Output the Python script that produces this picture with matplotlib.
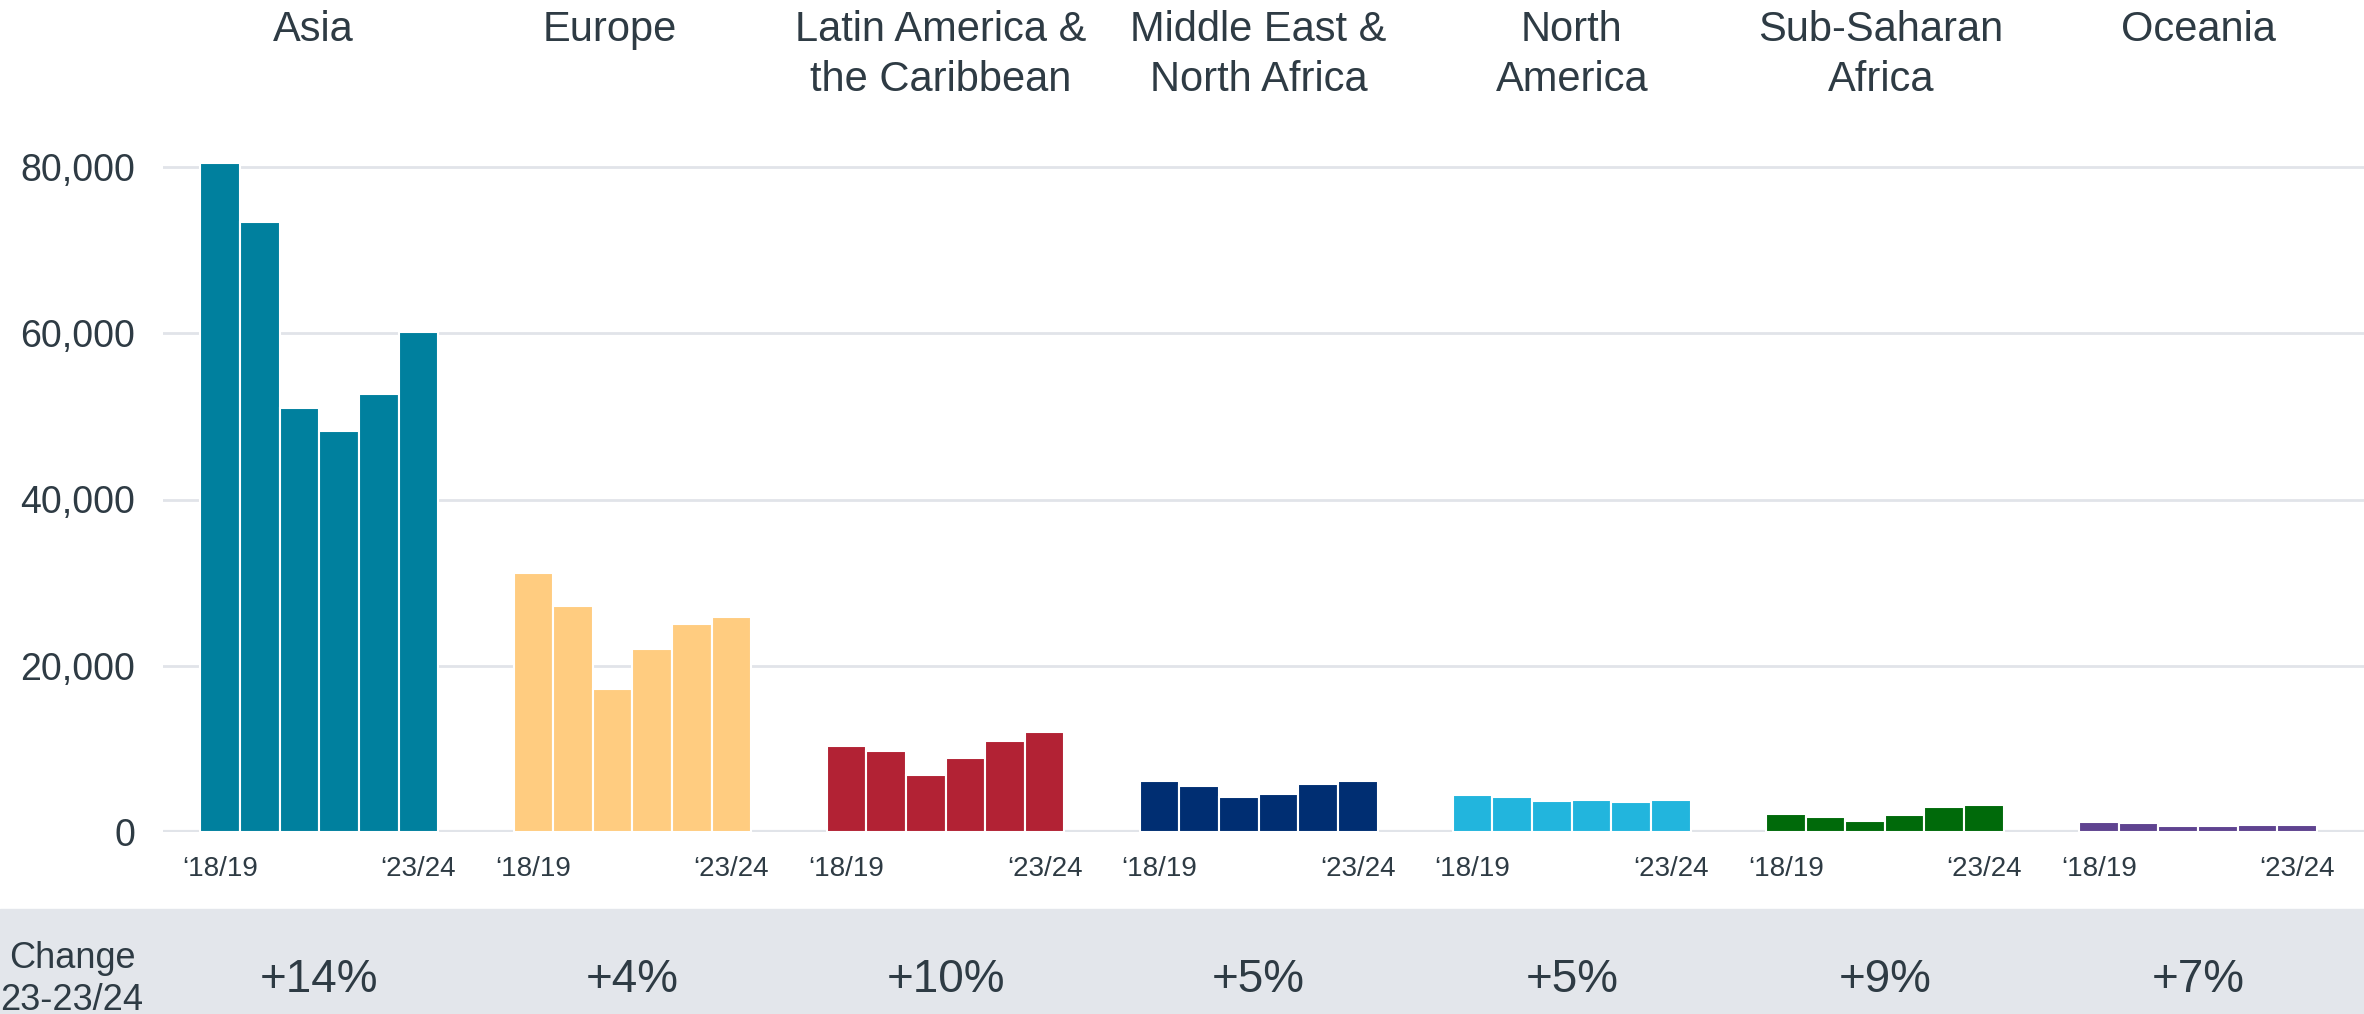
import numpy as np
import matplotlib.pyplot as plt
from matplotlib.ticker import FuncFormatter

plt.rcParams['font.family'] = ['Liberation Sans', 'DejaVu Sans']

regions = ['Asia', 'Europe', 'Latin America &\nthe Caribbean', 'Middle East &\nNorth Africa',
           'North\nAmerica', 'Sub-Saharan\nAfrica', 'Oceania']
years = ['18/19', '19/20', '20/21', '21/22', '22/23', '23/24']

# values per region, '18/19 .. '23/24
asia = [80500, 73400, 51000, 48300, 52700, 60200]
europe = [31200, 27200, 17200, 22000, 25000, 25900]
latam = [10300, 9800, 6900, 8900, 10900, 12000]
mena = [6100, 5500, 4200, 4600, 5800, 6100]
north_america = [4500, 4200, 3700, 3800, 3600, 3800]
ssa = [2200, 1750, 1300, 2050, 3000, 3300]
oceania = [1200, 1100, 700, 750, 800, 860]
change = ['+14%', '+4%', '+10%', '+5%', '+5%', '+9%', '+7%']

series = [asia, europe, latam, mena, north_america, ssa, oceania]
colors = ['#00809E', '#FFCC80', '#B22234', '#002E72', '#22B5DD', '#006A0A', '#5F4390']
txt = '#2E3B44'
W, H = 2364, 1014
# small horizontal nudges of the titles (pixels)
title_shift = [-6, -23, -5, 0, 0, -4, 0]

fig = plt.figure(figsize=(W / 100, H / 100), dpi=100)
ax = fig.add_axes([163 / W, 182 / H, 1 - 163 / W, 0.70])

period = 7.9
ticks, tlabels, centers = [], [], []
for g, vals in enumerate(series):
    x = g * period + np.arange(len(vals))
    ax.bar(x, vals, width=1.0, color=colors[g], edgecolor='white', linewidth=1.5, zorder=3)
    ticks += [x[0], x[-1]]
    tlabels += ['\u2018' + years[0], '\u2018' + years[-1]]
    centers.append(x.mean())

ax.set_xlim(-1.446, 54.09)
ax.set_ylim(0, 80000 * 0.70 * H / 665)
ax.set_yticks(np.arange(0, 80001, 20000))
ax.yaxis.set_major_formatter(FuncFormatter(lambda v, p: f'{int(v):,}'))
ax.set_xticks(ticks)
ax.set_xticklabels(tlabels)
ax.tick_params(axis='y', length=0, pad=20, labelsize=27, labelcolor=txt)
ax.tick_params(axis='x', length=0, pad=17, labelsize=20, labelcolor=txt)
ax.grid(axis='y', color='#E1E4E9', linewidth=2, zorder=0)
ax.axhline(0, color='#E1E4E9', linewidth=3, zorder=1)
for s in ax.spines.values():
    s.set_visible(False)

# region titles on top
for c, name, dx in zip(centers, regions, title_shift):
    xf = (ax.transData.transform((c, 0))[0] + dx) / fig.bbox.width
    fig.text(xf, 1 - 10 / H, name, ha='center', va='top', fontsize=30,
             color=txt, linespacing=1.32)

# change band at bottom
fig.patches.append(plt.Rectangle((0, 0), 1, 105 / H, transform=fig.transFigure,
                                 color='#E3E6EB', zorder=0))
fig.text(72 / W, 1 - 958 / H, 'Change', ha='center', va='center', fontsize=26, color=txt)
fig.text(0, 1 - 1000 / H, '23-23/24', ha='left', va='center', fontsize=26, color=txt)
for c, lab in zip(centers, change):
    xf = ax.transData.transform((c, 0))[0] / fig.bbox.width
    fig.text(xf, 1 - 980 / H, lab, ha='center', va='center', fontsize=33, color=txt)

fig.savefig('out.png', dpi=100)
